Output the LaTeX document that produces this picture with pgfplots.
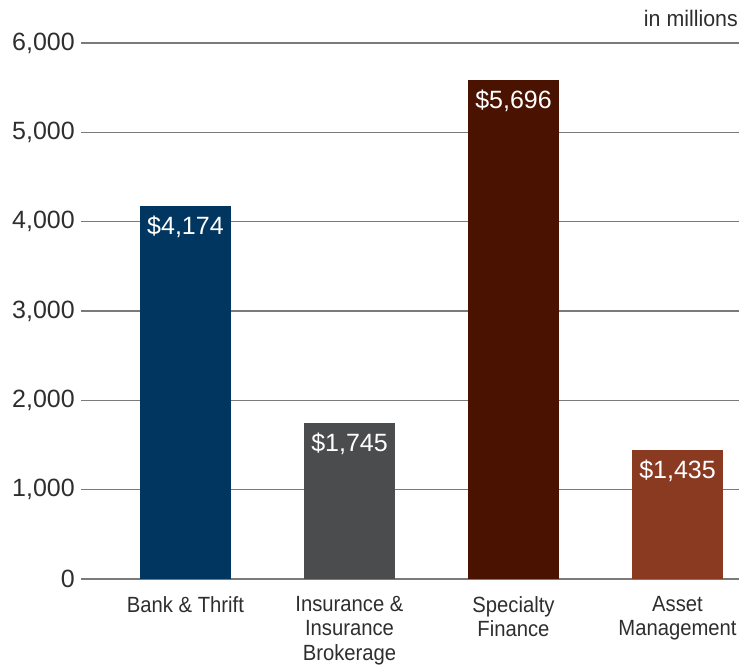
\documentclass[border=0pt]{standalone}
\usepackage{fontspec}
\setmainfont{Liberation Sans}
\newfontfamily\condfont{Liberation Sans}[FakeStretch=0.92]
\newfontfamily\midfont{Liberation Sans}[FakeStretch=0.95]
\usepackage{pgfplots}
\pgfplotsset{compat=1.18}
\definecolor{cnavy}{HTML}{00365F}
\definecolor{cgrey}{HTML}{4B4C4E}
\definecolor{cmaroon}{HTML}{4A1200}
\definecolor{crust}{HTML}{8B3A22}
\definecolor{cgrid}{HTML}{7A7A7A}
\definecolor{ctext}{HTML}{2E2E2E}
\begin{document}
\begin{tikzpicture}
\useasboundingbox (0,0) rectangle (744pt,664pt);
\begin{axis}[
  at={(81pt,85pt)}, anchor=south west,
  width=658pt, height=536pt, scale only axis,
  xmin=-0.637, xmax=3.375, ymin=0, ymax=6000,
  axis line style={draw=none},
  major tick length=0pt,
  ytick={0,1000,...,6000},
  scaled y ticks=false,
  ymajorgrids, grid style={color=cgrid, line width=1.2pt},
  xtick={0,1,2,3},
  xticklabels={{Bank \& Thrift},{Insurance \&\\Insurance\\Brokerage},{Specialty\\Finance},{Asset\\Management}},
  xticklabel style={align=center, anchor=north, inner sep=0pt, yshift=-17pt, text=ctext, font=\condfont\fontsize{22}{24.5}\selectfont},
  yticklabel style={anchor=east, inner sep=0pt, xshift=-6pt, text=ctext, font=\fontsize{25}{28}\selectfont},
  ybar, bar width=91pt, bar shift=0pt,
  point meta=explicit,
  nodes near coords={\$\pgfmathprintnumber{\pgfplotspointmeta}},
  nodes near coords style={anchor=north, inner sep=0pt, yshift=-10pt, text=white, font=\fontsize{25}{28}\selectfont},
  /pgf/number format/1000 sep={,},
  /pgf/number format/assume math mode=true,
  clip=false,
]
\addplot[fill=cnavy, draw=none] coordinates {(0,4174) [4174]};
\addplot[fill=cgrey, draw=none] coordinates {(1,1745) [1745]};
\addplot[fill=cmaroon, draw=none] coordinates {(2,5590) [5696]};
\addplot[fill=crust, draw=none] coordinates {(3,1445) [1435]};
\node[anchor=base east, inner sep=0pt, text=ctext, font=\midfont\fontsize{22.5}{24}\selectfont] at ([xshift=-1pt,yshift=16pt]rel axis cs:1,1) {in millions};
\end{axis}
\end{tikzpicture}
\end{document}
